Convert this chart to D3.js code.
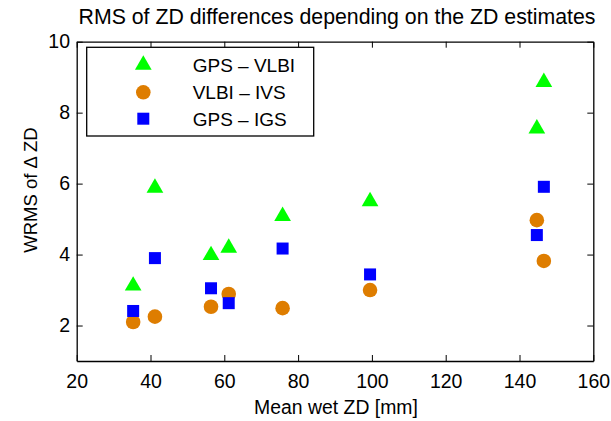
<!DOCTYPE html>
<html>
<head>
<meta charset="utf-8">
<script src="https://cdn.jsdelivr.net/npm/d3@7"></script>
<style>
  body { margin: 0; background: #fff; }
  svg text { font-family: "Liberation Sans", Arial, sans-serif; fill: #000; }
</style>
</head>
<body>
<svg id="chart" width="611" height="421"></svg>
<script>
// values
const meanWetZD = [35.3, 41.2, 56.4, 61.2, 75.8, 99.5, 144.7, 146.6];
const gpsVlbi   = [3.12, 5.88, 3.98, 4.19, 5.08, 5.50, 7.55, 8.86];
const vlbiIvs   = [2.10, 2.25, 2.53, 2.89, 2.49, 3.00, 4.97, 3.82];
const gpsIgs    = [2.41, 3.90, 3.05, 2.63, 4.17, 3.44, 4.55, 5.91];
const seriesNames = ["GPS \u2013 VLBI", "VLBI \u2013 IVS", "GPS \u2013 IGS"];
const xTicks = [20, 40, 60, 80, 100, 120, 140, 160];
const yTicks = [2, 4, 6, 8, 10];

const box = {left: 76.7, right: 593.3, top: 41.7, bottom: 361};
const fs = 19.5;

const svg = d3.select("#chart");
const x = d3.scaleLinear().domain([20, 160]).range([box.left, box.right]);
const y = d3.scaleLinear().domain([1, 10]).range([box.bottom, box.top]);

// frame + inward ticks on all four sides
svg.append("g")
    .attr("transform", `translate(0,${box.bottom})`)
    .call(d3.axisBottom(x).tickValues(xTicks).tickSizeInner(-6).tickSizeOuter(0).tickPadding(13));
svg.append("g")
    .attr("transform", `translate(0,${box.top})`)
    .call(d3.axisTop(x).tickValues(xTicks).tickSizeInner(-6).tickSizeOuter(0).tickFormat(""));
svg.append("g")
    .attr("transform", `translate(${box.left},0)`)
    .call(d3.axisLeft(y).tickValues(yTicks).tickSizeInner(-6).tickSizeOuter(0).tickPadding(6.7));
svg.append("g")
    .attr("transform", `translate(${box.right},0)`)
    .call(d3.axisRight(y).tickValues(yTicks).tickSizeInner(-6).tickSizeOuter(0).tickFormat(""));
svg.selectAll(".domain").attr("stroke", "#000").attr("stroke-width", 1.3);
svg.selectAll(".tick line").attr("stroke", "#000").attr("stroke-width", 1);
svg.selectAll(".tick text").attr("font-size", fs).attr("font-family", null);

// markers
const tri = d3.symbol().type(d3.symbolTriangle).size(121);
const idx = d3.range(meanWetZD.length);
svg.append("g").selectAll("path")
    .data(idx).enter().append("path")
    .attr("d", tri)
    .attr("transform", i => `translate(${x(meanWetZD[i])},${y(gpsVlbi[i])})`)
    .attr("fill", "#00ff00");
svg.append("g").selectAll("circle")
    .data(idx).enter().append("circle")
    .attr("cx", i => x(meanWetZD[i]))
    .attr("cy", i => y(vlbiIvs[i]))
    .attr("r", 7.3)
    .attr("fill", "#de7d00");
svg.append("g").selectAll("rect")
    .data(idx).enter().append("rect")
    .attr("x", i => x(meanWetZD[i]) - 6)
    .attr("y", i => y(gpsIgs[i]) - 6)
    .attr("width", 12).attr("height", 12)
    .attr("fill", "#0000ff");

// legend
const lg = svg.append("g");
lg.append("rect")
    .attr("x", 86.7).attr("y", 47.3)
    .attr("width", 227).attr("height", 88.7)
    .attr("fill", "#fff").attr("stroke", "#000").attr("stroke-width", 1.3);
const rowY = [65, 92.3, 118.7];
lg.append("path").attr("d", tri).attr("transform", `translate(143.3,${rowY[0]})`).attr("fill", "#00ff00");
lg.append("circle").attr("cx", 143.3).attr("cy", rowY[1]).attr("r", 7.3).attr("fill", "#de7d00");
lg.append("rect").attr("x", 137.3).attr("y", rowY[2] - 6).attr("width", 12).attr("height", 12).attr("fill", "#0000ff");
lg.selectAll("text.lbl")
    .data(seriesNames).enter().append("text")
    .attr("class", "lbl")
    .attr("x", 192.7)
    .attr("y", (d, i) => rowY[i])
    .attr("dy", "0.36em")
    .attr("font-size", 19)
    .text(d => d);

// titles
svg.append("text")
    .attr("x", 337)
    .attr("y", 24)
    .attr("text-anchor", "middle")
    .attr("font-size", 21.3)
    .text("RMS of ZD differences depending on the ZD estimates");
svg.append("text")
    .attr("x", 336)
    .attr("y", 414)
    .attr("text-anchor", "middle")
    .attr("font-size", 19.4)
    .text("Mean wet ZD [mm]");
svg.append("text")
    .attr("transform", "translate(37,190) rotate(-90)")
    .attr("text-anchor", "middle")
    .attr("font-size", 18.5)
    .text("WRMS of \u0394 ZD");
</script>
</body>
</html>
